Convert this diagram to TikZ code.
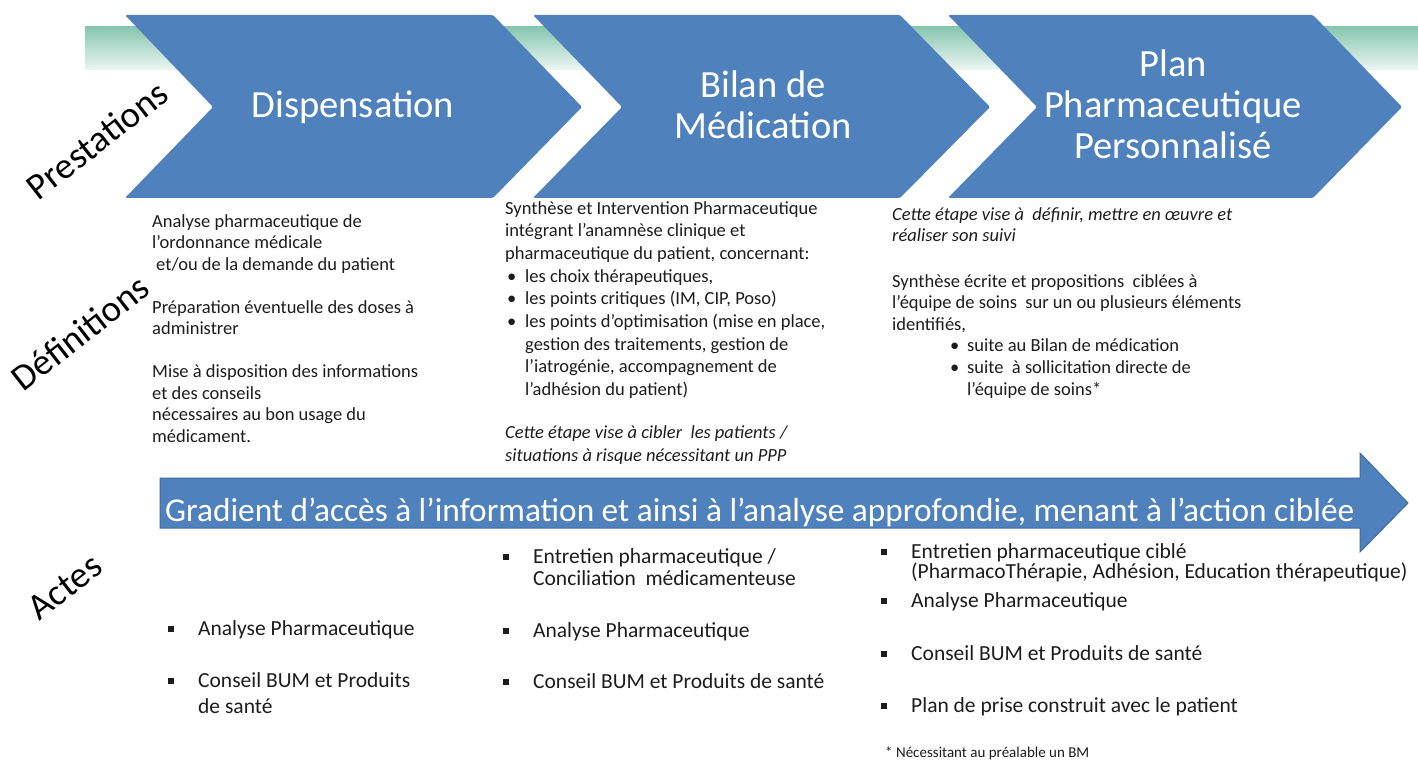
\documentclass[tikz,border=0pt]{standalone}
\usepackage{fontspec}
\setmainfont{Carlito}
\definecolor{cblue}{RGB}{79,129,189}
\definecolor{cblueD}{RGB}{62,108,165}
\definecolor{tealA}{RGB}{135,198,176}
\definecolor{tealB}{RGB}{236,246,242}
\definecolor{txt}{RGB}{28,28,28}
\newcommand\bulA{\hspace*{2pt}\makebox[18pt][l]{\textbullet}}
\newcommand\indA{\hspace*{20pt}}
\newcommand\bulB{\hspace*{58pt}\makebox[17pt][l]{\textbullet}}
\newcommand\sqb{\makebox[30pt][l]{\rule[3.5pt]{6pt}{6pt}}}
\begin{document}
\begin{tikzpicture}[x=1pt,y=-1pt,
  title/.style={text=white,font=\fontsize{38.5}{41}\selectfont,align=center,inner sep=0pt},
  lab/.style={text=black,font=\fontsize{37}{40}\selectfont,rotate=38,inner sep=0pt},
  deftxt/.style={text=txt,font=\fontsize{18.5}{21.5}\selectfont,align=left,inner sep=0pt,anchor=base west},
  acttxt/.style={text=txt,font=\fontsize{21.5}{22}\selectfont,align=left,inner sep=0pt,anchor=base west},
  chev/.style={fill=cblue,rounded corners=1.5pt}]
\useasboundingbox (0,0) rectangle (1418,762);
% teal band
\shade[top color=tealA,bottom color=tealB] (85,27) rectangle (1418,70);
% chevrons
\fill[chev] (125,15) -- (493,15) -- (582,107) -- (493,198) -- (125,198) -- (213,107) -- cycle;
\fill[chev] (533,15) -- (900,15) -- (990,107) -- (900,198) -- (533,198) -- (622,107) -- cycle;
\fill[chev] (948,15) -- (1313,15) -- (1402,107) -- (1313,198) -- (948,198) -- (1037,107) -- cycle;
\node[title] (t1) at (353,107) {Dispensation};
\node[title] (t2) at (763,105) {Bilan de\\Médication};
\node[title] (t3) at (1173,104) {Plan\\Pharmaceutique\\Personnalisé};
% side labels
\node[lab] (lp) at (97,140) {Prestations};
\node[lab] (ld) at (80,333) {Définitions};
\node[lab] (la) at (65,587) {Actes};
% definitions (base = last line)
\node[deftxt] (d1) at (152,442) {Analyse pharmaceutique de\\
l'ordonnance médicale\\
\hspace*{4pt}et/ou de la demande du patient\\[21.5pt]
Préparation éventuelle des doses à\\
administrer\\[21.5pt]
Mise à disposition des informations\\
et des conseils\\
nécessaires au bon usage du\\
médicament.};
\node[deftxt,font=\fontsize{18.5}{22.7}\selectfont] (d2) at (505,461) {Synthèse et Intervention Pharmaceutique\\
intégrant l’anamnèse clinique et\\
pharmaceutique du patient, concernant:\\
\bulA les choix thérapeutiques,\\
\bulA les points critiques (IM, CIP, Poso)\\
\bulA les points d’optimisation (mise en place,\\
\indA gestion des traitements, gestion de\\
\indA l’iatrogénie, accompagnement de\\
\indA l’adhésion du patient)\\[20pt]
\textit{Cette étape vise à cibler\ \ les patients /}\\
\textit{situations à risque nécessitant un PPP}};
\node[deftxt,font=\fontsize{18.5}{21.6}\selectfont] (d3) at (892,395) {\textit{Cette étape vise à\ \ définir, mettre en œuvre et}\\
\textit{réaliser son suivi}\\[23.5pt]
Synthèse écrite et propositions\ \ ciblées à\\
l’équipe de soins\ \ sur un ou plusieurs éléments\\
identifiés,\\
\bulB suite au Bilan de médication\\
\bulB suite\ \ à sollicitation directe de\\
\hspace*{75pt}l’équipe de soins*};
% big arrow
\fill[cblue,draw=cblueD,line width=1pt] (160,478) -- (1360,478) -- (1360,453) -- (1408,503) -- (1360,552) -- (1360,528) -- (160,528) -- cycle;
\node[text=white,font=\fontsize{33.3}{35}\selectfont,inner sep=0pt,anchor=base west] (g) at (165,521) {Gradient d’accès à l’information et ainsi à l’analyse approfondie, menant à l’action ciblée};
% actes (base = last line)
\node[acttxt] (a11) at (168,635) {\sqb Analyse Pharmaceutique};
\node[acttxt] (a12) at (168,713) {\sqb Conseil BUM et Produits\\[4pt]\hspace*{30pt}de santé};
\node[acttxt] (a21) at (503,585) {\sqb Entretien pharmaceutique /\\\hspace*{30pt}Conciliation\ \ médicamenteuse};
\node[acttxt] (a22) at (503,637) {\sqb Analyse Pharmaceutique};
\node[acttxt] (a23) at (503,688) {\sqb Conseil BUM et Produits de santé};
\node[acttxt] (a31) at (881,578) {\sqb Entretien pharmaceutique ciblé\\[-2pt]\hspace*{30pt}(PharmacoThérapie, Adhésion, Education thérapeutique)};
\node[acttxt] (a32) at (881,607) {\sqb Analyse Pharmaceutique};
\node[acttxt] (a33) at (881,660) {\sqb Conseil BUM et Produits de santé};
\node[acttxt] (a34) at (881,712) {\sqb Plan de prise construit avec le patient};
\node[text=txt,font=\fontsize{15}{17}\selectfont,inner sep=0pt,anchor=base west] (fn) at (885,757) {* Nécessitant au préalable un BM};
\end{tikzpicture}
\end{document}
